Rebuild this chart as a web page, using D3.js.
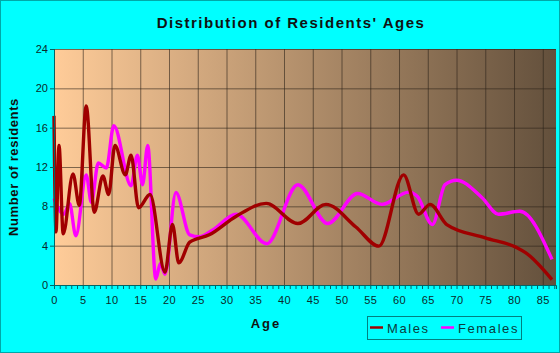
<!DOCTYPE html>
<html>
<head>
<meta charset="utf-8">
<script src="https://cdn.jsdelivr.net/npm/d3@7"></script>
<style>
  body { margin: 0; background: #00ffff; }
  svg { display: block; font-family: "Liberation Sans", Arial, sans-serif; }
</style>
</head>
<body>
<svg id="chart" width="560" height="353"></svg>
<script>
// values (age, number of residents)
const maleAges = [0, 0.35, 0.87, 1.6, 3.3, 4.4, 5.6, 7.0, 8.5, 9.5, 10.6, 12.4, 13.4, 14.7, 16.7, 19.3, 20.6, 21.7, 23.6, 27, 31.7, 36.9, 42.4, 47.3, 52.5, 56.5, 60.8, 63.4, 65.4, 68.3, 75, 80.5, 82, 86.6]
const maleValues = [17.2, 5.4, 14.2, 5.2, 11.3, 8.1, 18.2, 7.4, 11.1, 9.2, 14.2, 11.2, 13.2, 7.85, 9.2, 1.3, 6.15, 2.25, 4.35, 5.1, 7.0, 8.3, 6.25, 8.2, 5.9, 3.95, 11.2, 7.2, 8.2, 6.15, 4.8, 3.8, 3.3, 0.55]
const femaleAges = [0, 1.7, 2.7, 3.8, 5.6, 6.5, 7.7, 9.1, 10.4, 13.4, 14.5, 15.4, 16.3, 17.7, 18.5, 19.3, 21.2, 23.6, 25.3, 27.6, 31.7, 37, 42.4, 47.6, 52.8, 57, 61.7, 63.2, 65.8, 68, 70, 74.4, 77.3, 81, 86.6]
const femaleValues = [8.8, 7.2, 8.3, 5.0, 11.2, 8.4, 12.4, 11.9, 16.2, 10.1, 13.2, 10.2, 14.2, 0.6, 2.2, 1.1, 9.4, 5.1, 4.9, 5.6, 7.2, 4.2, 10.2, 6.25, 9.3, 8.2, 9.45, 9.0, 6.15, 10.2, 10.65, 8.9, 7.2, 7.5, 2.6]
const xTicks = [0, 5, 10, 15, 20, 25, 30, 35, 40, 45, 50, 55, 60, 65, 70, 75, 80, 85]
const yTicks = [0, 4, 8, 12, 16, 20, 24]
const seriesNames = ["Males", "Females"]
const seriesColors = ["#a00000", "#ff00ff"]

const margin = { left: 54, top: 49, right: 4, bottom: 68 }
const width = 560 - margin.left - margin.right
const height = 353 - margin.top - margin.bottom

const svg = d3.select("#chart")

// outer frame
svg.append("rect")
  .attr("x", 0.5).attr("y", 0.5).attr("width", 559).attr("height", 352)
  .attr("fill", "#00ffff").attr("stroke", "#00a8a8")

// plot background gradient
const grad = svg.append("defs").append("linearGradient")
  .attr("id", "bg").attr("x1", "0%").attr("x2", "100%")
grad.append("stop").attr("offset", "0%").attr("stop-color", "#ffcc99")
grad.append("stop").attr("offset", "100%").attr("stop-color", "#63503c")

const x = d3.scaleLinear().domain([0, 87.3]).range([0, width])
const y = d3.scaleLinear().domain([0, 24]).range([height, 0])

const graph = svg.append("g")
  .attr("transform", `translate(${margin.left}, ${margin.top})`)

graph.append("rect")
  .attr("width", width).attr("height", height)
  .attr("fill", "url(#bg)")

// grid lines
graph.append("g")
  .call(d3.axisBottom(x).tickValues(xTicks).tickSize(height).tickFormat(""))
  .call((g) => g.select(".domain").remove())
  .selectAll("line").attr("stroke", "rgba(45,35,25,0.6)")
graph.append("g")
  .call(d3.axisRight(y).tickValues(yTicks).tickSize(width).tickFormat(""))
  .call((g) => g.select(".domain").remove())
  .selectAll("line").attr("stroke", "rgba(45,35,25,0.6)")

// lines
const line = d3.line()
  .x((d) => x(d[0]))
  .y((d) => y(d[1]))
  .curve(d3.curveMonotoneX)

const femaleData = femaleAges.map((a, i) => [a, femaleValues[i]])
const maleData = maleAges.map((a, i) => [a, maleValues[i]])

graph.append("path").datum(femaleData)
  .attr("d", line).attr("fill", "none")
  .attr("stroke", seriesColors[1]).attr("stroke-width", 3.4)
  .attr("stroke-linejoin", "round")
graph.append("path").datum(maleData)
  .attr("d", line).attr("fill", "none")
  .attr("stroke", seriesColors[0]).attr("stroke-width", 3.4)
  .attr("stroke-linejoin", "round")

// x axis: minor ticks every year, labels every 5
const xAxisG = graph.append("g")
  .attr("transform", `translate(0, ${height})`)
xAxisG.call(d3.axisBottom(x).tickValues(d3.range(0, 88)).tickSize(4).tickFormat(""))
xAxisG.selectAll("line").attr("stroke", "#006666")
xAxisG.select(".domain").attr("stroke", "#006666")
const xLabels = graph.append("g")
  .attr("transform", `translate(0, ${height})`)
  .call(d3.axisBottom(x).tickValues(xTicks).tickSize(0).tickPadding(11))
xLabels.select(".domain").remove()
xLabels.selectAll("text")
  .attr("font-size", 11).attr("font-family", "Liberation Sans, Arial, sans-serif")
  .attr("fill", "#0a2a2a").attr("letter-spacing", 0.5)

// y axis
const yAxisG = graph.append("g")
  .call(d3.axisLeft(y).tickValues(yTicks).tickSize(4).tickPadding(2))
yAxisG.selectAll("line").attr("stroke", "#006666")
yAxisG.select(".domain").attr("stroke", "#006666")
yAxisG.selectAll("text")
  .attr("font-size", 11).attr("font-family", "Liberation Sans, Arial, sans-serif")
  .attr("fill", "#0a2a2a")

// titles
svg.append("text")
  .attr("x", 291).attr("y", 28)
  .attr("text-anchor", "middle")
  .attr("font-size", 15).attr("font-weight", "bold")
  .attr("letter-spacing", 1.5)
  .attr("fill", "#111")
  .text("Distribution of Residents' Ages")

svg.append("text")
  .attr("transform", "translate(18, 167) rotate(-90)")
  .attr("text-anchor", "middle")
  .attr("font-size", 13).attr("font-weight", "bold")
  .attr("letter-spacing", 0.6)
  .attr("fill", "#111")
  .text("Number of residents")

svg.append("text")
  .attr("x", 266).attr("y", 328)
  .attr("text-anchor", "middle")
  .attr("font-size", 13).attr("font-weight", "bold")
  .attr("letter-spacing", 2)
  .attr("fill", "#111")
  .text("Age")

// legend
const legend = svg.append("g")
legend.append("rect")
  .attr("x", 367.5).attr("y", 316.5).attr("width", 154).attr("height", 23)
  .attr("fill", "none").attr("stroke", "#008080")
const legendX = [370, 441]
seriesNames.forEach((name, i) => {
  legend.append("line")
    .attr("x1", legendX[i]).attr("x2", legendX[i] + 13)
    .attr("y1", 327.5).attr("y2", 327.5)
    .attr("stroke", seriesColors[i]).attr("stroke-width", 2.5)
  legend.append("text")
    .attr("x", legendX[i] + 17).attr("y", 333)
    .attr("font-size", 13).attr("letter-spacing", 1.6)
    .attr("fill", "#0a3c3c")
    .text(name)
})
</script>
</body>
</html>
